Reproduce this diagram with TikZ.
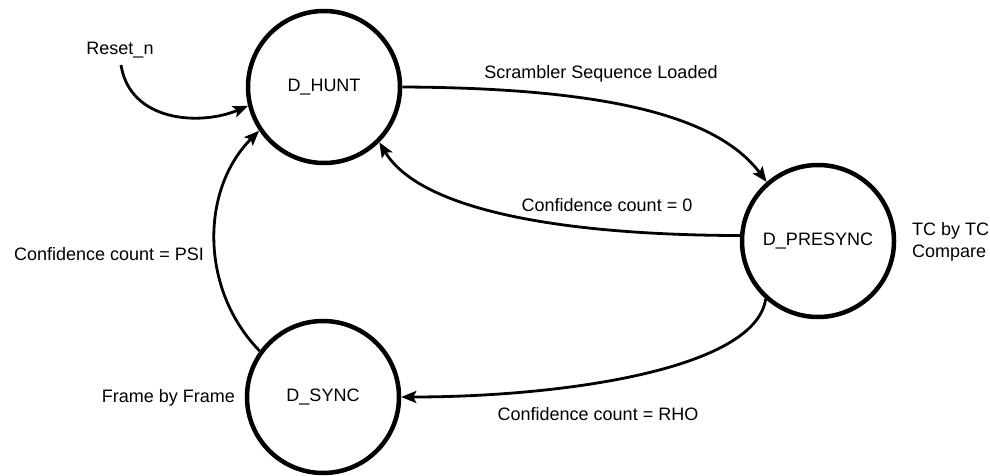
\documentclass[tikz,border=0pt]{standalone}
\usepackage{fontspec}
\setmainfont{Liberation Sans}
\usetikzlibrary{arrows.meta}
\begin{document}
\begin{tikzpicture}[x=1pt,y=-1pt,
  state/.style={circle,draw,line width=4.5pt,minimum size=152pt,inner sep=0pt,font=\fontsize{18}{21}\selectfont},
  lbl/.style={inner sep=0pt,font=\fontsize{18}{22}\selectfont},
  conn/.style={line width=2.8pt,-{Stealth[length=15pt,width=12pt,inset=3pt]}}]
\useasboundingbox (0,0) rectangle (990,476);
\node[state] (hunt) at (324,87) {D\_HUNT};
\node[state] (pre) at (818,241) {D\_PRESYNC};
\node[state] (sync) at (323,397) {D\_SYNC};
\node[lbl] (reset) at (120,50) {Reset\_n};
\node[lbl] (lscr) at (601,74) {Scrambler Sequence Loaded};
\node[lbl] (lzero) at (607,205) {Confidence count = 0};
\node[lbl] (lpsi) at (109,254) {Confidence count = PSI};
\node[lbl] (lrho) at (598,414) {Confidence count = RHO};
\node[lbl,anchor=east] (lframe) at (235,398) {Frame by Frame};
\node[lbl,anchor=west,align=left] (ltc) at (912,242) {TC by TC\\Compare};
\coordinate (rs) at (121,65);
\draw[conn] (rs) .. controls (130,122) and (200,126) .. (hunt.194);
\draw[conn] (sync.144) .. controls (200,290) and (200,190) .. (hunt.214);
\draw[conn] (hunt.0) .. controls (620,88) and (720,120) .. (pre.131);
\draw[conn] (pre.176) .. controls (560,235) and (420,210) .. (hunt.315);
\draw[conn] (pre.228) .. controls (755,370) and (560,397) .. (sync.0);
\end{tikzpicture}
\end{document}
